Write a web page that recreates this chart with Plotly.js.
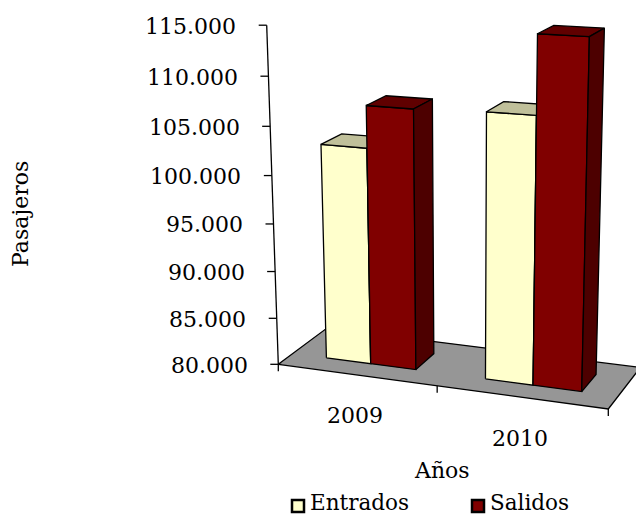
<!DOCTYPE html>
<html>
<head>
<meta charset="utf-8">
<script src="https://cdn.plot.ly/plotly-3.0.1.min.js"></script>
<style>html,body{margin:0;padding:0;background:#fff;overflow:hidden}</style>
</head>
<body>
<div id="chart" style="width:636px;height:515px"></div>
<script>
// ---- data ----
const categories = ['2009', '2010'];
const entrados = [102700, 107250];
const salidos = [107000, 115000];
const valueTicks = [80000, 85000, 90000, 95000, 100000, 105000, 110000, 115000];
const tickLabels = ['80.000', '85.000', '90.000', '95.000', '100.000', '105.000', '110.000', '115.000'];
const seriesNames = ['Entrados', 'Salidos'];
const axisTitles = {x: 'Años', y: 'Pasajeros'};

// ---- perspective scale: (category units, value, depth) -> figure position ----
const O = [278.3, 364.3], PU = [608.3, 409], PV = [266.7, 24.7], PW = [327, 326.5];
const VU = [-4000, -215.4], VV = [465, 5822], VW = [1135, -273];
const VMIN = 80000, VMAX = 115000, UMAX = categories.length;
function coef(P, V) { return (P[0] - O[0]) / (V[0] - P[0]); }
const a = coef(PU, VU), b = coef(PV, VV), c = coef(PW, VW);
function proj(u, val, w) {
  const s = u / UMAX, t = (val - VMIN) / (VMAX - VMIN);
  const d = a * s + b * t + c * w + 1;
  return [
    (a * s * VU[0] + b * t * VV[0] + c * w * VW[0] + O[0]) / d,
    (a * s * VU[1] + b * t * VV[1] + c * w * VW[1] + O[1]) / d
  ];
}

const traces = [];
function poly(pts, fill, lw) {
  const closed = pts.concat([pts[0]]);
  traces.push({
    type: 'scatter', mode: 'lines', fill: 'toself', fillcolor: fill,
    x: closed.map(p => p[0]), y: closed.map(p => p[1]),
    line: {color: '#000', width: lw === undefined ? 1.3 : lw},
    hoverinfo: 'skip', showlegend: false
  });
}
function seg(p, q, lw) {
  traces.push({
    type: 'scatter', mode: 'lines', x: [p[0], q[0]], y: [p[1], q[1]],
    line: {color: '#000', width: lw || 1.3}, hoverinfo: 'skip', showlegend: false
  });
}

// floor
poly([proj(0, VMIN, 0), proj(UMAX, VMIN, 0), proj(UMAX, VMIN, 1), proj(0, VMIN, 1)], '#969696');

// bars
const GAP = 1.5 / 2, W0 = 0.29, W1 = 0.71, USHIFT = 0.005;
const barW = 1 / (2 + 1.5);
const faces = [
  {front: '#FFFFCC', top: '#C0C09A', side: '#8C8C70'},
  {front: '#800000', top: '#600000', side: '#4D0000'}
];
function bar(u0, val, col) {
  const u1 = u0 + barW;
  poly([proj(u0, VMIN, W0), proj(u1, VMIN, W0), proj(u1, val, W0), proj(u0, val, W0)], col.front);
  poly([proj(u0, val, W0), proj(u1, val, W0), proj(u1, val, W1), proj(u0, val, W1)], col.top);
  poly([proj(u1, VMIN, W0), proj(u1, VMIN, W1), proj(u1, val, W1), proj(u1, val, W0)], col.side);
}
categories.forEach((cat, i) => {
  const start = i + GAP * barW + USHIFT;
  bar(start, entrados[i], faces[0]);
  bar(start + barW, salidos[i], faces[1]);
});

// value axis
seg(proj(0, VMIN, 0), proj(0, VMAX, 0));
const annotations = [];
function label(x, y, text, anchor, angle, size) {
  annotations.push({
    xref: 'x', yref: 'y', x: x, y: y, text: text, showarrow: false,
    xanchor: anchor || 'center', yanchor: 'middle', textangle: angle || 0,
    borderpad: 0, font: {family: 'DejaVu Serif', size: size || 22, color: '#000'}
  });
}
valueTicks.forEach((v, i) => {
  const p = proj(0, v, 0);
  seg([p[0] - 8, p[1]], i === 0 ? [p[0] + 3, p[1]] : p);
  label(p[0] - 29.5, p[1] + 1, tickLabels[i], 'right');
});

// category axis
for (let u = 0; u <= UMAX; u++) {
  const p = proj(u, VMIN, 0);
  seg(p, [p[0], p[1] + 7]);
}
categories.forEach((cat, i) => {
  const p = proj(i + 0.5, VMIN, 0);
  label(p[0] - 1, p[1] + 41, cat);
});

label(442, 470, axisTitles.x);
label(20, 214, axisTitles.y, 'center', -90);

// legend
const legendX = [298, 478], legendTextX = [309, 489], legendY = 502;
seriesNames.forEach((n, i) => {
  traces.push({
    type: 'scatter', mode: 'markers', x: [legendX[i]], y: [legendY + 4],
    marker: {symbol: 'square', size: 12, color: faces[i].front, line: {color: '#000', width: 2.5}},
    hoverinfo: 'skip', showlegend: false
  });
  label(legendTextX[i], legendY, n, 'left', 0, 21.5);
});

Plotly.newPlot('chart', traces, {
  width: 636, height: 515,
  margin: {l: 0, r: 0, t: 0, b: 0},
  paper_bgcolor: '#fff', plot_bgcolor: '#fff',
  showlegend: false,
  xaxis: {range: [0, 636], visible: false, fixedrange: true},
  yaxis: {range: [515, 0], visible: false, fixedrange: true},
  annotations: annotations
}, {displayModeBar: false, staticPlot: true});
</script>
</body>
</html>
